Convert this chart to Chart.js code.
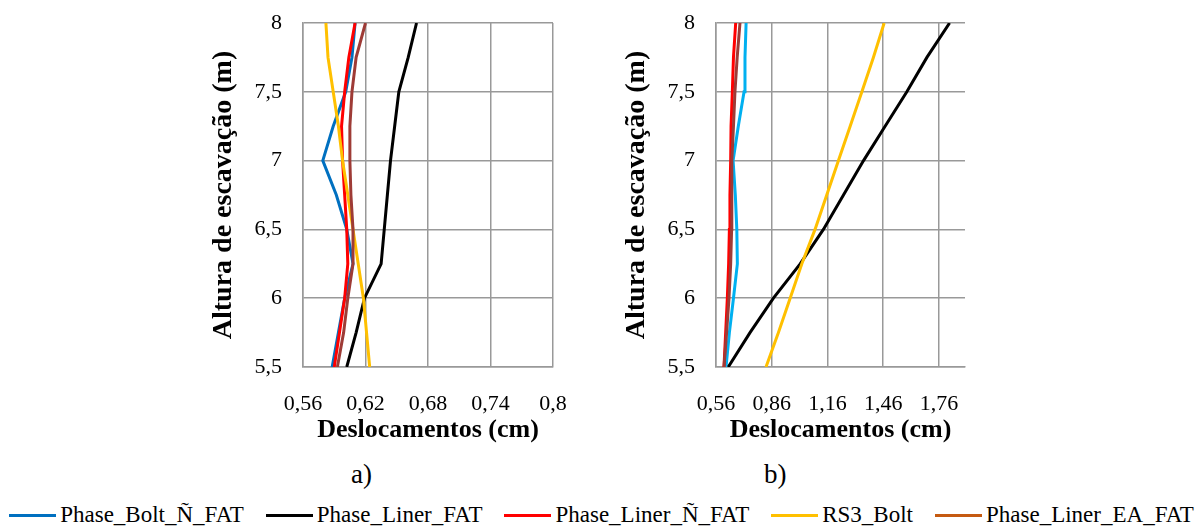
<!DOCTYPE html>
<html>
<head>
<meta charset="utf-8">
<script src="https://cdn.jsdelivr.net/npm/chart.js@4.4.0/dist/chart.umd.min.js"></script>
<style>
  body { margin: 0; background: #fff; width: 1203px; height: 527px; position: relative; overflow: hidden; color: #000; }
  .box { position: absolute; top: 0; height: 450px; width: 385px; }
  #boxA { left: 197px; }
  #boxB { left: 610px; }
  .tag { position: absolute; top: 457px; font-size: 27px; line-height: 34px; }
  #legend { position: absolute; left: 0; width: 1203px; top: 501px; height: 28px; display: flex;
            justify-content: center; align-items: center; font-size: 23px; white-space: nowrap; }
  #legend .item { display: flex; align-items: center; margin: 0 11px; }
  #legend .swatch { display: inline-block; width: 47px; height: 3px; margin-right: 4px; }
</style>
</head>
<body>
<div class="box" id="boxA"><canvas id="chartA"></canvas></div>
<div class="box" id="boxB"><canvas id="chartB"></canvas></div>
<div class="tag" style="left:351px">a)</div>
<div class="tag" style="left:764px">b)</div>
<div id="legend"></div>
<script>
const heights = [5.5, 5.75, 6, 6.25, 6.5, 6.75, 7, 7.25, 7.5, 7.75, 8];
const seriesNames = ['Phase_Bolt_Ñ_FAT', 'Phase_Liner_FAT', 'Phase_Liner_Ñ_FAT', 'RS3_Bolt', 'Phase_Liner_EA_FAT'];
const legendColors = ['#0070C0', '#000000', '#FF0000', '#FFC000', '#C55A11'];
const colorsA = ['#0070C0', '#000000', '#FF0000', '#FFC000', '#9E3B36'];
const colorsB = ['#00B0F0', '#000000', '#FF0000', '#FFC000', '#9E3B36'];

// a) displacements (cm) per height
const boltA     = [0.588, 0.594, 0.600, 0.608, 0.602, 0.592, 0.579, 0.589, 0.601, 0.607, 0.610];
const linerA    = [0.602, 0.611, 0.619, 0.635, 0.638, 0.641, 0.644, 0.648, 0.652, 0.661, 0.669];
const linerNA   = [0.590, 0.595, 0.600, 0.603, 0.602, 0.600, 0.598, 0.597, 0.600, 0.604, 0.610];
const rs3A      = [0.624, 0.621, 0.618, 0.613, 0.608, 0.603, 0.598, 0.594, 0.589, 0.584, 0.582];
const linerEaA  = [0.593, 0.599, 0.603, 0.608, 0.608, 0.606, 0.605, 0.605, 0.607, 0.611, 0.620];

// b)
const boltB     = [0.614, 0.632, 0.654, 0.675, 0.672, 0.664, 0.652, 0.680, 0.711, 0.716, 0.722];
const linerB    = [0.626, 0.743, 0.869, 1.013, 1.138, 1.246, 1.354, 1.470, 1.587, 1.695, 1.817];
const linerNB   = [0.603, 0.612, 0.621, 0.628, 0.632, 0.635, 0.639, 0.641, 0.648, 0.654, 0.666];
const rs3B      = [0.829, 0.896, 0.959, 1.022, 1.093, 1.156, 1.219, 1.282, 1.345, 1.407, 1.465];
const linerEaB  = [0.603, 0.617, 0.630, 0.639, 0.644, 0.644, 0.646, 0.654, 0.662, 0.674, 0.689];

const yTicks  = [5.5, 6, 6.5, 7, 7.5, 8];
const xTicksA = [0.56, 0.62, 0.68, 0.74, 0.8];
const xTicksB = [0.56, 0.86, 1.16, 1.46, 1.76];

// use a Times-like font if one is installed
function pickFont(cands, fallback) {
  const ctx = document.createElement('canvas').getContext('2d');
  const s = 'Altura de escavação 0,56 mmwwiil';
  const bases = ['monospace', 'sans-serif', 'serif'];
  const baseW = bases.map(b => { ctx.font = '40px ' + b; return ctx.measureText(s).width; });
  for (const f of cands) {
    const found = bases.some((b, i) => { ctx.font = `40px "${f}", ${b}`; return ctx.measureText(s).width !== baseW[i]; });
    if (found) return f;
  }
  return fallback;
}
const family = pickFont(['Liberation Serif', 'Times New Roman', 'Tinos', 'Nimbus Roman', 'DejaVu Serif', 'Noto Serif'], 'Liberation Sans');
const fam = `"${family}", serif`;
document.body.style.fontFamily = fam;

const gridColor = '#999999';
const fmt = v => String(v).replace('.', ',');

function makeChart(id, series, colors, xTicks, xMax, padRight) {
  const datasets = series.map((vals, i) => ({
    label: seriesNames[i],
    data: vals.map((x, k) => ({ x, y: heights[k] })),
    borderColor: colors[i],
    backgroundColor: colors[i],
    borderWidth: 3,
    pointRadius: 0,
    showLine: true,
    tension: 0,
    order: series.length - i
  }));

  new Chart(document.getElementById(id), {
    type: 'scatter',
    data: { datasets },
    options: {
      responsive: true,
      maintainAspectRatio: false,
      animation: false,
      layout: { padding: { top: 23, right: padRight, left: 0, bottom: 0 } },
      plugins: { legend: { display: false }, tooltip: { enabled: false } },
      scales: {
        x: {
          type: 'linear',
          min: xTicks[0],
          max: xMax,
          afterBuildTicks: axis => { axis.ticks = xTicks.map(v => ({ value: v })); },
          afterFit: axis => { axis.height = 83; axis.paddingLeft = 0; axis.paddingRight = 0; },
          grid: { color: gridColor, lineWidth: 1.5, drawTicks: false },
          border: { color: gridColor, width: 1.5 },
          ticks: { color: '#000', padding: 24, font: { family: fam, size: 22 }, callback: fmt },
          title: { display: true, text: 'Deslocamentos (cm)', color: '#000',
                   font: { family: fam, size: 26, weight: 'bold' }, padding: { top: 0, bottom: 4 } }
        },
        y: {
          type: 'linear',
          min: yTicks[0],
          max: yTicks[yTicks.length - 1],
          afterBuildTicks: axis => { axis.ticks = yTicks.map(v => ({ value: v })); },
          afterFit: axis => { axis.width = 106; axis.paddingTop = 0; axis.paddingBottom = 0; },
          grid: { color: gridColor, lineWidth: 1.5, drawTicks: false },
          border: { color: gridColor, width: 1.5 },
          ticks: { color: '#000', padding: 21, font: { family: fam, size: 22 }, callback: fmt },
          title: { display: true, text: 'Altura de escavação (m)', color: '#000',
                   font: { family: fam, size: 28, weight: 'bold' }, padding: { top: 10, bottom: 0 } }
        }
      }
    }
  });
}

makeChart('chartA', [boltA, linerA, linerNA, rs3A, linerEaA], colorsA, xTicksA, 0.8, 29);
makeChart('chartB', [boltB, linerB, linerNB, rs3B, linerEaB], colorsB, xTicksB, 1.9, 30);

const legend = document.getElementById('legend');
seriesNames.forEach((name, i) => {
  const item = document.createElement('span');
  item.className = 'item';
  const sw = document.createElement('span');
  sw.className = 'swatch';
  sw.style.background = legendColors[i];
  item.appendChild(sw);
  item.appendChild(document.createTextNode(name));
  legend.appendChild(item);
});
</script>
</body>
</html>
